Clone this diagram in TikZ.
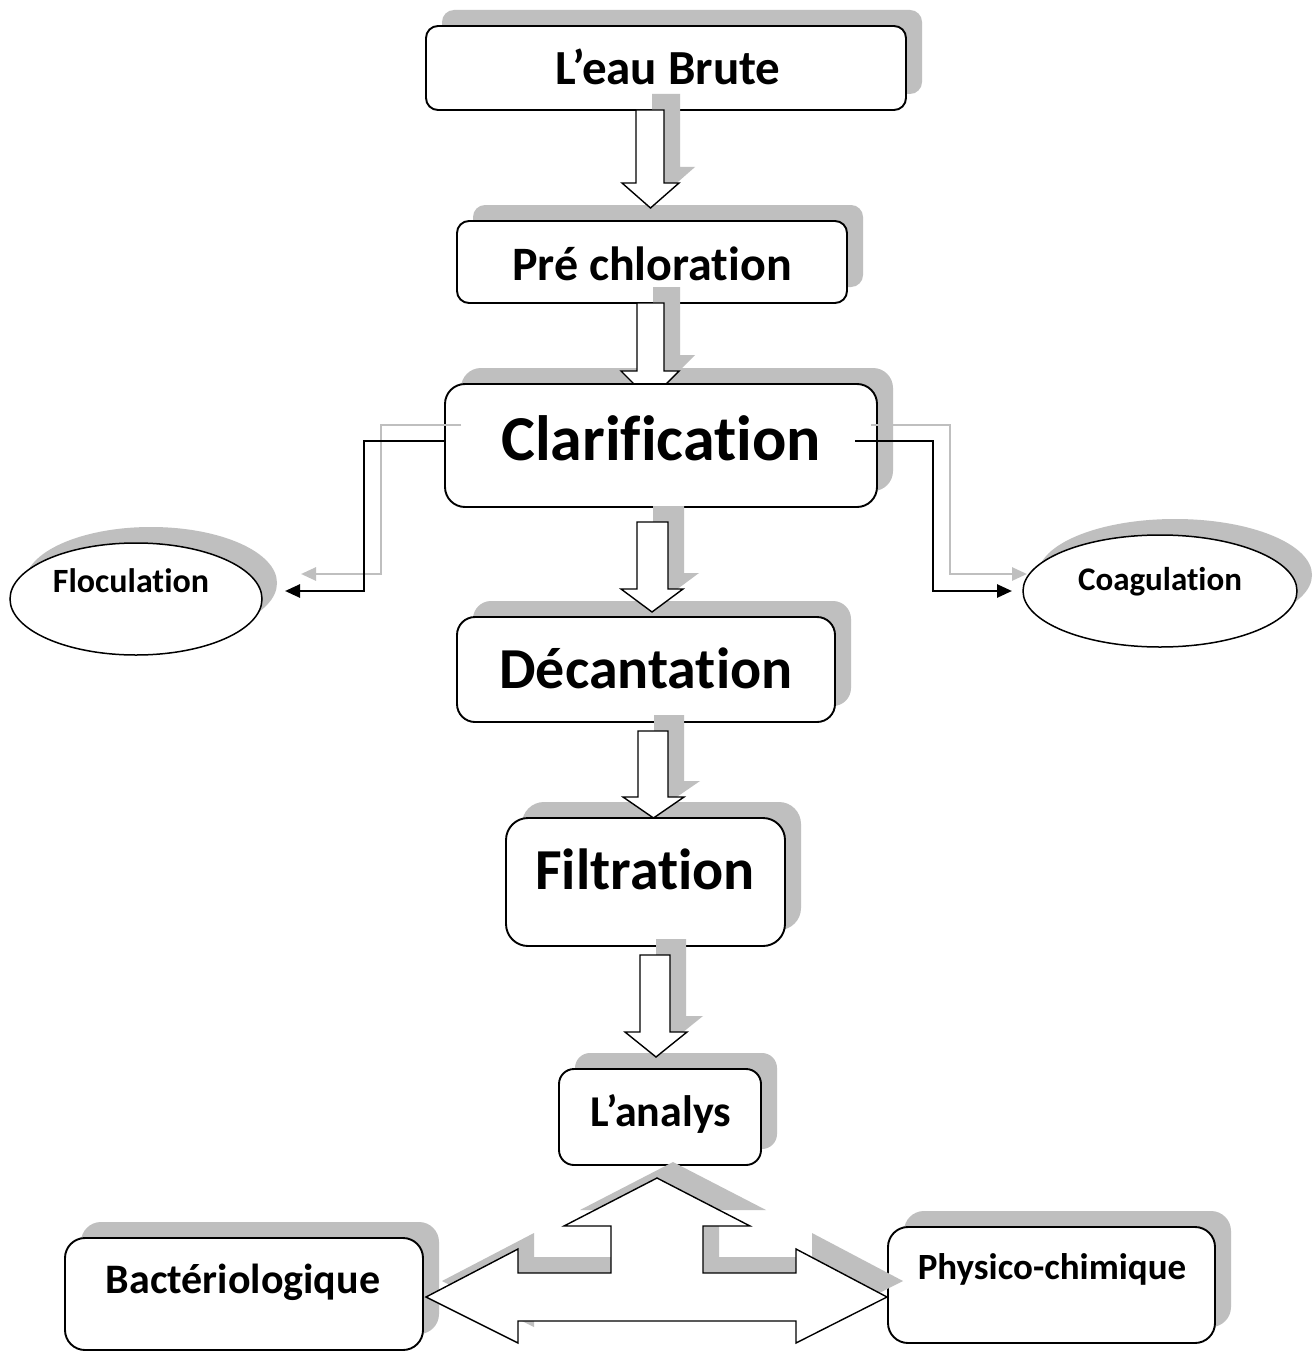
\documentclass[tikz,border=0pt]{standalone}
\usepackage{fontspec}
\setmainfont[Ligatures=NoCommon]{Carlito}
\usetikzlibrary{arrows.meta,shapes.geometric}
\definecolor{shadowgrey}{RGB}{191,191,191}
\newcommand\fsz[1]{\fontsize{#1}{#1}\selectfont\bfseries}
% shadow of a box: x1,y1,x2,y2,radius
\newcommand\boxshadow[5]{\fill[shadowgrey, rounded corners=#5] (#1+16,#2-16) rectangle (#3+16,#4-16);}
% stage box node: name,x1,y1,x2,y2,radius
\newcommand\stagebox[6]{\node[box, rounded corners=#6, minimum width={#4-#2}, minimum height={#5-#3}] (#1) at ({(#2+#4)/2},{(#3+#5)/2}) {};}
% block arrow pointing down: shaft left, shaft right, top, head left, head right, head top, tip
\newcommand\blkpath[7]{(#1,#3) -- (#1,#6) -- (#4,#6) -- ({(#4+#5)/2},#7) -- (#5,#6) -- (#2,#6) -- (#2,#3) -- cycle}
\newcommand\blkdown[7]{%
  \fill[shadowgrey] [shift={(16,-16)}] \blkpath{#1}{#2}{#3}{#4}{#5}{#6}{#7};
  \draw[blk] \blkpath{#1}{#2}{#3}{#4}{#5}{#6}{#7};}
\tikzset{
  box/.style={draw=black, line width=1.9pt, fill=white, inner sep=0pt, outer sep=0pt},
  blk/.style={draw=black, line width=1.4pt, fill=white, line join=miter},
  lab/.style={anchor=base, inner sep=0pt, outer sep=0pt},
  oval/.style={ellipse, draw=black, line width=1.5pt, fill=white, inner sep=0pt, outer sep=0pt},
  conn/.style={draw=black, line width=2.6pt, -{Triangle[length=15pt,width=13pt]}},
  connsh/.style={draw=shadowgrey, line width=2.6pt, -{Triangle[length=15pt,width=13pt]}},
}
\begin{document}
\begin{tikzpicture}[x=1pt,y=-1pt]
\useasboundingbox (0,0) rectangle (1313,1351);
\fill[white] (0,0) rectangle (1313,1351);
% level 1
\boxshadow{426}{26}{906}{110}{12}
\stagebox{brute}{426}{26}{906}{110}{12}
% level 2
\boxshadow{457}{221}{847}{303}{12}
\blkdown{636}{664}{110}{622}{679}{183}{208}
\stagebox{prechl}{457}{221}{847}{303}{12}
% level 3
\boxshadow{445}{384}{877}{507}{20}
\blkdown{637}{664}{303}{621}{679}{371}{400}
\stagebox{clar}{445}{384}{877}{507}{20}
% level 4
\boxshadow{457}{617}{835}{722}{18}
\blkdown{637}{668}{522}{621}{683}{589}{612}
\stagebox{decant}{457}{617}{835}{722}{18}
% level 5
\boxshadow{506}{818}{785}{946}{22}
\blkdown{638}{668}{731}{623}{684}{797}{818}
\stagebox{filt}{506}{818}{785}{946}{22}
% level 6
\boxshadow{559}{1069}{761}{1165}{15}
\blkdown{640}{670}{955}{625}{687}{1032}{1057}
\stagebox{analys}{559}{1069}{761}{1165}{15}
% bottom boxes
\boxshadow{65}{1238}{423}{1350}{20}
\stagebox{bact}{65}{1238}{423}{1350}{20}
\boxshadow{888}{1227}{1215}{1343}{20}
\stagebox{phys}{888}{1227}{1215}{1343}{20}
% T arrow
\def\tarrow{(657,1178) -- (750,1226) -- (703,1226) -- (703,1273) -- (796,1273) -- (796,1249) -- (887,1297) -- (796,1343) -- (796,1321) -- (518,1321) -- (518,1343) -- (426,1297) -- (518,1249) -- (518,1273) -- (611,1273) -- (611,1226) -- (564,1226) -- cycle}
\fill[shadowgrey] [shift={(16,-16)}] \tarrow;
\draw[blk] \tarrow;
% ellipses
\fill[shadowgrey] (151,583) ellipse [x radius=126pt, y radius=56pt];
\node[oval, minimum width=252pt, minimum height=112pt] (floc) at (136,599) {};
\fill[shadowgrey] (1175,575) ellipse [x radius=137pt, y radius=56pt];
\node[oval, minimum width=274pt, minimum height=112pt] (coag) at (1160,591) {};
% side connectors
\draw[connsh] ([shift={(16,-20.5)}]clar.west) -- ++(-80,0) |- ([shift={(39,-25)}]floc.east);
\draw[connsh] ([shift={(-6,-20.5)}]clar.east) -- ++(79,0) |- ([shift={(4,-17)}]coag.west);
\draw[conn] ([shift={(0,-4.5)}]clar.west) -- ++(-81,0) |- ([shift={(23,-8)}]floc.east);
\draw[conn] ([shift={(-22,-4.5)}]clar.east) -- ++(78,0) |- ([shift={(-11,0)}]coag.west);
% labels
\node[lab, font=\fsz{49}] (tbrute) at (668,85) {L’eau Brute};
\node[lab, font=\fsz{48}] (tprechl) at (652,280) {Pré chloration};
\node[lab, font=\fsz{64}] (tclar) at (661,460) {Clarification};
\node[lab, font=\fsz{58}] (tdecant) at (646,688) {Décantation};
\node[lab, font=\fsz{58}] (tfilt) at (645,889) {Filtration};
\node[lab, font=\fsz{44}] (tanalys) at (661,1126) {L’analys};
\node[lab, font=\fsz{42}] (tbact) at (243,1293) {Bactériologique};
\node[lab, font=\fsz{37}] (tphys) at (1052,1279) {Physico-chimique};
\node[lab, font=\fsz{34}] (tfloc) at (131,592) {Floculation};
\node[lab, font=\fsz{33}] (tcoag) at (1160,590) {Coagulation};
\end{tikzpicture}
\end{document}
